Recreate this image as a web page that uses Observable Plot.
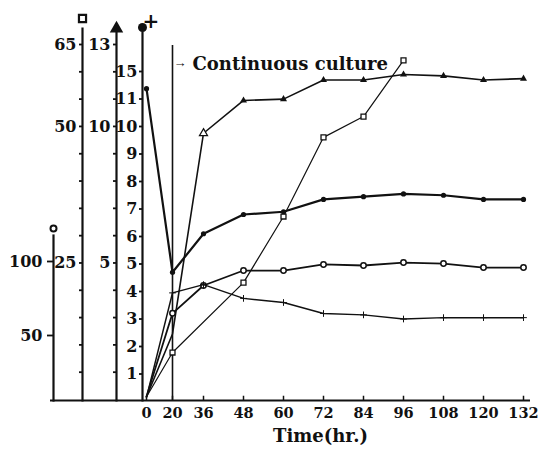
<!DOCTYPE html>
<html><head><meta charset="utf-8">
<script src="https://cdn.jsdelivr.net/npm/d3@7"></script>
<script src="https://cdn.jsdelivr.net/npm/@observablehq/plot@0.6"></script>
<style>
body{margin:0;background:#fff}
#chart{position:relative;width:549px;height:461px;background:#fff}
#chart svg{position:absolute;left:0;top:0}
</style></head><body><div id="chart"></div>
<script>
// ---- data ----
const times = [0, 20, 36, 48, 60, 72, 84, 96, 108, 120, 132];
const xTicks = [0, 20, 36, 48, 60, 72, 84, 96, 108, 120, 132];
const filledDotSeries = [12.5, 4.7, 6.1, 6.8, 6.9, 7.35, 7.45, 7.55, 7.5, 7.35, 7.35];
const plusSeries = [0.15, 3.95, 4.25, 3.75, 3.6, 3.2, 3.15, 3.0, 3.05, 3.05, 3.05];
const triangleSeries = [0.1, 2.4, 9.75, 10.95, 11.0, 11.7, 11.7, 11.9, 11.85, 11.7, 11.75];
const squareTimes = [0, 20, 48, 60, 72, 84, 96];
const squareSeries = [0.5, 8.6, 21.4, 33.5, 48, 51.8, 62.1];
const circleSeries = [8.8, 65, 83.8, 93.9, 93.9, 98, 97.3, 99.3, 98.6, 95.9, 95.9];

const circleTicks = [50, 100];
const circleLabels = [50, 100];
const squareTicks = [5, 10, 15, 20, 25, 30, 35, 40, 45, 50, 55, 60, 65];
const squareLabels = [25, 50, 65];
const triangleTicks = [1, 2, 3, 4, 5, 6, 7, 8, 9, 10, 11, 12, 13];
const triangleLabels = [5, 10, 13];
const dotTicks = [1, 2, 3, 4, 5, 6, 7, 8, 9, 10, 11, 15];
const dotLabels = [1, 2, 3, 4, 5, 6, 7, 8, 9, 10, 11, 15];

const continuousStart = 20;
const annotation = "Continuous culture";
const xLabel = "Time(hr.)";

// ---- layout ----
const W = 549, H = 461, BOTTOM = 61;
// broken time axis: 0–20 and 20–36 are compressed relative to the 12-h steps
const timeWarp = d3.scaleLinear().domain([0, 20, 36, 132]).range([0, 26, 57, 377]);
const xScale = {type: "linear", transform: t => timeWarp(t), domain: [0, 377], range: [146, 523], axis: null};
// broken "●" axis: 11 → 15 occupies one unit step
const dotWarp = d3.scaleLinear().domain([0, 11, 15]).range([0, 11, 12]);
const FONT = "DejaVu Serif";
const INK = "#111";

const rows = (ts, vs) => ts.map((t, i) => ({t, v: vs[i]}));

function axisLayer({axisX, top, y, ticks, labels, tickSize, tickPadding, header, series}) {
  return Plot.plot({
    width: W, height: H,
    marginLeft: axisX, marginTop: top, marginBottom: BOTTOM, marginRight: 19,
    style: {background: "transparent", overflow: "visible"},
    x: xScale,
    y: {...y, axis: null},
    marks: [
      Plot.frame({anchor: "left", stroke: INK, strokeWidth: 2.2}),
      Plot.axisY(ticks, {
        anchor: "left", label: null, tickSize, tickPadding, stroke: INK, strokeWidth: 1.8,
        tickFormat: d => labels.includes(d) ? String(d) : "",
        fontSize: 16, fontWeight: "bold", fontFamily: FONT, fill: INK
      }),
      ...header,
      ...series
    ]
  });
}

const chart = document.getElementById("chart");

// base layer: time axis, continuous-culture line and annotation
chart.appendChild(Plot.plot({
  width: W, height: H,
  marginLeft: 50, marginRight: 19, marginTop: 45, marginBottom: BOTTOM,
  style: {background: "transparent", overflow: "visible"},
  x: xScale,
  y: {domain: [0, 1], axis: null},
  marks: [
    Plot.ruleY([0], {stroke: INK, strokeWidth: 2.2}),
    Plot.ruleX([continuousStart], {stroke: INK, strokeWidth: 1.6}),
    Plot.ruleX(xTicks, {y1: 0, y2: 0.012, stroke: INK, strokeWidth: 1.5}),
    Plot.axisX(xTicks, {anchor: "bottom", label: null, tickSize: 0, tickPadding: 7, fontSize: 14.5, fontWeight: "bold", fontFamily: FONT, fill: INK}),
    Plot.text(["→"], {x: continuousStart, frameAnchor: "top", dy: 12, dx: 1, textAnchor: "start", fontSize: 13, fontWeight: "bold", fill: INK}),
    Plot.text([annotation], {x: continuousStart, frameAnchor: "top", dy: 12, dx: 20, textAnchor: "start", fontSize: 18, fontWeight: "bold", fontFamily: FONT, fill: INK, style: "letter-spacing:0.5px"}),
    Plot.text([xLabel], {frameAnchor: "bottom", dx: 30, dy: 41, fontSize: 18, fontWeight: "bold", fontFamily: FONT, fill: INK, style: "letter-spacing:1px"})
  ]
}));

// open circle axis
const circleData = rows(times, circleSeries);
chart.appendChild(axisLayer({
  axisX: 53, top: 235,
  y: {domain: [0, 100], range: [409, 261]},
  ticks: circleTicks, labels: circleLabels, tickSize: 6, tickPadding: 5,
  header: [Plot.dot([0], {frameAnchor: "top-left", dy: -7, r: 3, stroke: INK, strokeWidth: 2, fill: "white"})],
  series: [
    Plot.line(circleData, {x: "t", y: "v", stroke: INK, strokeWidth: 1.8}),
    Plot.dot(circleData.slice(1), {x: "t", y: "v", r: 2.7, stroke: INK, strokeWidth: 1.5, fill: "white"})
  ]
}));

// open square axis
const squareData = rows(squareTimes, squareSeries);
chart.appendChild(axisLayer({
  axisX: 82, top: 28,
  y: {domain: [0, 65], range: [399, 44]},
  ticks: squareTicks, labels: squareLabels, tickSize: 3, tickPadding: 3,
  header: [Plot.dot([0], {frameAnchor: "top-left", dy: -10, symbol: "square", r: 4, stroke: INK, strokeWidth: 2.2, fill: "white"})],
  series: [
    Plot.line(squareData, {x: "t", y: "v", stroke: INK, strokeWidth: 1.2}),
    Plot.dot(squareData.slice(1), {x: "t", y: "v", symbol: "square", r: 2.8, stroke: INK, strokeWidth: 1.3, fill: "white"})
  ]
}));

// triangle axis
const triangleData = rows(times, triangleSeries);
chart.appendChild(axisLayer({
  axisX: 116, top: 27,
  y: {domain: [0, 13], range: [399, 44]},
  ticks: triangleTicks, labels: triangleLabels, tickSize: 3, tickPadding: 3,
  header: [Plot.dot([0], {frameAnchor: "top-left", dy: 1, symbol: "triangle", r: 5, fill: INK})],
  series: [
    Plot.line(triangleData, {x: "t", y: "v", stroke: INK, strokeWidth: 1.6}),
    Plot.dot(triangleData.slice(2, 3), {x: "t", y: "v", symbol: "triangle", r: 3, stroke: INK, strokeWidth: 1.2, fill: "white"}),
    Plot.dot(triangleData.slice(3), {x: "t", y: "v", symbol: "triangle", r: 2.6, fill: INK})
  ]
}));

// filled dot / plus axis
const dotData = rows(times, filledDotSeries);
const plusData = rows(times, plusSeries);
chart.appendChild(axisLayer({
  axisX: 142, top: 32,
  y: {type: "linear", transform: v => dotWarp(v), domain: [0, 12], range: [401, 71]},
  ticks: dotTicks, labels: dotLabels, tickSize: 3, tickPadding: 2,
  header: [
    Plot.dot([0], {frameAnchor: "top-left", dy: -5, r: 4.5, fill: INK}),
    Plot.text(["+"], {frameAnchor: "top-left", dy: -19, fontSize: 20, fontWeight: "bold", fontFamily: FONT, fill: INK})
  ],
  series: [
    Plot.line(dotData, {x: "t", y: "v", stroke: INK, strokeWidth: 2.2}),
    Plot.dot(dotData, {x: "t", y: "v", r: 2.6, fill: INK}),
    Plot.line(plusData, {x: "t", y: "v", stroke: INK, strokeWidth: 1.5}),
    Plot.dot(plusData.slice(1), {x: "t", y: "v", symbol: "plus", r: 2.3, stroke: INK, strokeWidth: 1})
  ]
}));
</script></body></html>
